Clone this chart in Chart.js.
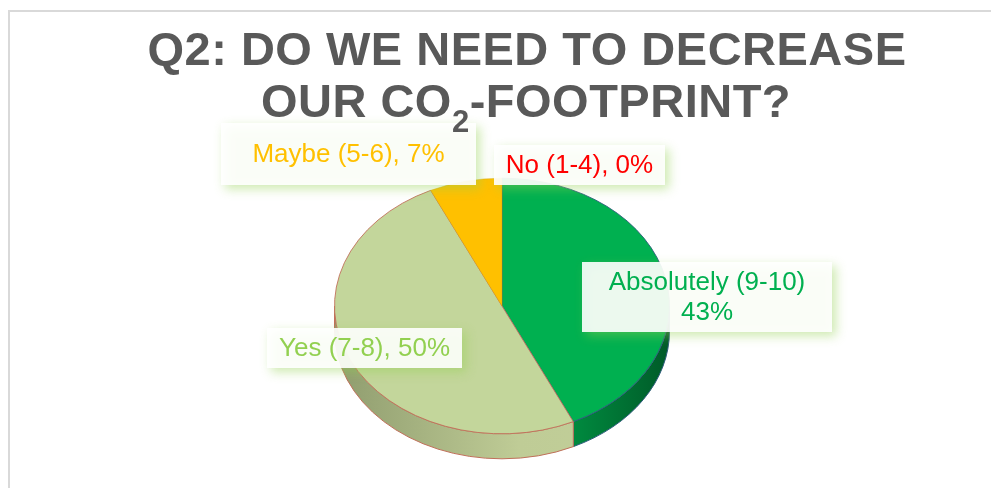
<!DOCTYPE html>
<html>
<head>
<meta charset="utf-8">
<script src="https://cdn.jsdelivr.net/npm/chart.js@4.4.1/dist/chart.umd.min.js"></script>
<style>
  html, body { margin: 0; padding: 0; background: #fff; }
  #wrap { width: 991px; height: 488px; }
</style>
</head>
<body>
<div id="wrap"><canvas id="pie" width="991" height="488"></canvas></div>
<script>
// answers, clockwise from 12 o'clock
const answers = ['Absolutely (9-10)', 'Yes (7-8)', 'Maybe (5-6)', 'No (1-4)'];
const shares = [43, 50, 7, 0];
const titleTop = 'Q2: DO WE NEED TO DECREASE';
const titleBottom = ['OUR CO', '2', '-FOOTPRINT?']; // middle part is a subscript

const sliceColors = ['#00b050', '#c3d69b', '#ffc000', '#ff0000'];
const sliceBorders = ['#2f5d7c', '#c0705a', '#d9a400', '#ff0000'];
const sideShades = [
  ['#009545', '#00a54c', '#005a28'],
  ['#8f9c6e', '#bfcc96', '#c2cf9a'],
  ['#d9a300', '#f0b400', '#c99700'],
  ['#cc0000', '#e00000', '#aa0000']
];
const labelColors = ['#00b050', '#92d050', '#ffc000', '#ff0000'];
// callout boxes [left, top, width, height]
const labelBoxes = [
  [582, 262, 250, 70],
  [267, 328, 195, 40],
  [221, 123, 255, 62],
  [494, 145, 171, 40]
];

const TILT = 0.763;   // vertical squash of the pie top
const DEPTH = 25;     // thickness of the pie wall
const FONT = '"Liberation Sans", Arial, sans-serif';

function drawSides(ctx, arcs) {
  arcs.forEach((arc, i) => {
    const p = arc.getProps(['x', 'y', 'startAngle', 'endAngle', 'outerRadius']);
    if (p.endAngle - p.startAngle <= 0) return;
    const rx = p.outerRadius, ry = p.outerRadius * TILT;
    for (let k = -1; k <= 1; k++) {
      const lo = Math.max(p.startAngle, k * 2 * Math.PI);
      const hi = Math.min(p.endAngle, k * 2 * Math.PI + Math.PI);
      if (hi <= lo) continue;
      const g = ctx.createLinearGradient(p.x - rx, 0, p.x + rx, 0);
      g.addColorStop(0, sideShades[i][0]);
      g.addColorStop(0.55, sideShades[i][1]);
      g.addColorStop(1, sideShades[i][2]);
      ctx.beginPath();
      ctx.ellipse(p.x, p.y, rx, ry, 0, lo, hi);
      ctx.ellipse(p.x, p.y + DEPTH, rx, ry, 0, hi, lo, true);
      ctx.closePath();
      ctx.fillStyle = g;
      ctx.fill();
      ctx.lineWidth = 1;
      ctx.strokeStyle = sliceBorders[i];
      ctx.stroke();
    }
  });
}

function drawCallout(ctx, box, lines, color) {
  const [x, y, w, h] = box;
  ctx.save();
  // shadow only: the rect itself is pushed off canvas
  ctx.shadowColor = 'rgba(146, 208, 80, 0.45)';
  ctx.shadowBlur = 10;
  ctx.shadowOffsetX = 5000 + 4;
  ctx.shadowOffsetY = 4;
  ctx.fillStyle = '#fff';
  ctx.fillRect(x - 5000, y, w, h);
  ctx.restore();

  ctx.fillStyle = 'rgba(255, 255, 255, 0.9)';
  ctx.fillRect(x, y, w, h);
  ctx.fillStyle = color;
  ctx.font = '26px ' + FONT;
  ctx.textAlign = 'center';
  ctx.textBaseline = 'middle';
  const lh = 30;
  const y0 = y + h / 2 - (lines.length - 1) * lh / 2;
  lines.forEach((t, j) => ctx.fillText(t, x + w / 2, y0 + j * lh + 1));
}

function drawTitle(ctx) {
  ctx.save();
  ctx.fillStyle = '#595959';
  ctx.textBaseline = 'alphabetic';
  ctx.letterSpacing = '0.5px';
  const mainFont = 'bold 47px ' + FONT;
  const subFont = 'bold 31px ' + FONT;

  ctx.textAlign = 'center';
  ctx.font = mainFont;
  ctx.fillText(titleTop, 527, 65);

  ctx.font = mainFont;
  const w1 = ctx.measureText(titleBottom[0]).width;
  const w3 = ctx.measureText(titleBottom[2]).width;
  ctx.font = subFont;
  const w2 = ctx.measureText(titleBottom[1]).width;
  let x = 526 - (w1 + w2 + w3) / 2;
  ctx.textAlign = 'left';
  ctx.font = mainFont;
  ctx.fillText(titleBottom[0], x, 117);
  x += w1;
  ctx.font = subFont;
  ctx.fillText(titleBottom[1], x, 132);
  x += w2;
  ctx.font = mainFont;
  ctx.fillText(titleBottom[2], x, 117);
  ctx.restore();
}

const tiltedPie = {
  id: 'tiltedPie',
  beforeDraw(chart) {
    const ctx = chart.ctx;
    ctx.save();
    ctx.fillStyle = '#fff';
    ctx.fillRect(0, 0, chart.width, chart.height);
    ctx.strokeStyle = '#d9d9d9';
    ctx.lineWidth = 2;
    ctx.beginPath();
    ctx.moveTo(9, chart.height);
    ctx.lineTo(9, 11);
    ctx.lineTo(chart.width, 11);
    ctx.stroke();
    ctx.restore();
  },
  beforeDatasetsDraw(chart) {
    const ctx = chart.ctx;
    const arcs = chart.getDatasetMeta(0).data;
    ctx.save();
    drawSides(ctx, arcs);
    ctx.restore();
    // squash the flat pie into the tilted top face
    const cy = arcs[0].y;
    ctx.save();
    ctx.translate(0, cy);
    ctx.scale(1, TILT);
    ctx.translate(0, -cy);
  },
  afterDatasetsDraw(chart) {
    chart.ctx.restore();
  },
  afterDraw(chart) {
    const ctx = chart.ctx;
    answers.forEach((name, i) => {
      const lines = i === 0
        ? [name, shares[i] + '%']
        : [name + ', ' + shares[i] + '%'];
      drawCallout(ctx, labelBoxes[i], lines, labelColors[i]);
    });
    drawTitle(ctx);
  }
};

new Chart(document.getElementById('pie'), {
  type: 'pie',
  data: {
    labels: answers,
    datasets: [{
      data: shares,
      backgroundColor: sliceColors,
      borderColor: sliceBorders,
      borderWidth: [1, 1, 0.5, 0],
      hoverOffset: 0,
      clip: false
    }]
  },
  options: {
    responsive: false,
    animation: false,
    events: [],
    layout: { padding: { left: 334, right: 321, top: 138, bottom: 14 } },
    plugins: {
      legend: { display: false },
      tooltip: { enabled: false },
      title: { display: false }
    }
  },
  plugins: [tiltedPie]
});
</script>
</body>
</html>
